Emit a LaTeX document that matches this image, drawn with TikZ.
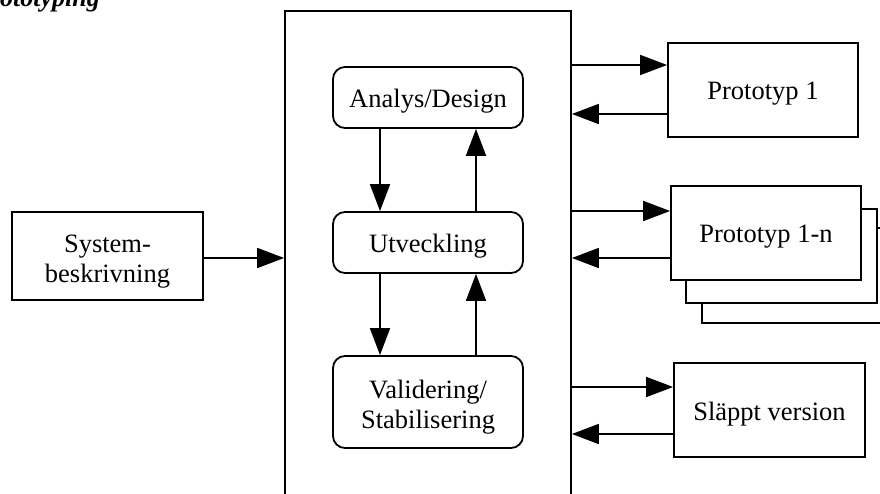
\documentclass[tikz,border=0pt]{standalone}
\usepackage{fontspec}
\setmainfont{Liberation Serif}
\usetikzlibrary{arrows.meta,calc}

\tikzset{
  lbl/.style={font=\fontsize{26.5}{30}\selectfont, align=center, inner sep=0pt},
  oneline/.style={text height=20pt, text depth=0pt},
  twoline/.style={text height=53pt, text depth=0pt},
  sqbox/.style={lbl, draw, line width=1.8pt, fill=white},
  rbox/.style={sqbox, rounded corners=12pt},
  arr/.style={line width=1.8pt, -{Triangle[length=27pt,width=20pt]}},
}

\begin{document}
\begin{tikzpicture}[x=1pt,y=1pt]
  \useasboundingbox (0,0) rectangle (880,493);
  \clip (0,0) rectangle (880,493);
  \fill[white] (0,0) rectangle (880,493);

  % heading, partly outside the page
  \node[anchor=base west, inner sep=0pt, font=\fontsize{26}{30}\selectfont\bfseries\itshape]
    (title) at (-26,486) {Prototyping};

  % outer process frame (runs past the bottom edge)
  \node[draw, line width=1.8pt, minimum width=286pt, minimum height=502pt, inner sep=0pt]
    (frame) at (428,231) {};

  % inner cycle
  \node[rbox, oneline, minimum width=190pt, minimum height=61pt] (ad) at (428,395.5) {Analys/Design};
  \node[rbox, oneline, minimum width=190pt, minimum height=61pt] (ut) at (428,250.5) {Utveckling};
  \node[rbox, twoline, minimum width=190pt, minimum height=92pt] (va) at (428,91) {Validering/\\Stabilisering};

  \draw[arr] (ad.south -| 380,0) -- (ut.north -| 380,0);
  \draw[arr] (ut.north -| 476,0) -- (ad.south -| 476,0);
  \draw[arr] (ut.south -| 380,0) -- (va.north -| 380,0);
  \draw[arr] (va.north -| 476,0) -- (ut.south -| 476,0);

  % input
  \node[sqbox, twoline, minimum width=191pt, minimum height=88pt] (sys) at (107.5,237) {System-\\beskrivning};
  \draw[arr] (sys.east |- 0,235) -- (frame.west |- 0,235);

  % prototypes
  \node[sqbox, oneline, minimum width=190pt, minimum height=94pt] (p1) at (763,403) {Prototyp 1};
  \node[sqbox, minimum width=191pt, minimum height=95pt] (pn3) at (797.5,217.5) {};
  \node[sqbox, minimum width=191pt, minimum height=94pt] (pn2) at (781.5,237) {};
  \node[sqbox, oneline, minimum width=190pt, minimum height=94pt] (pn) at (766,260) {Prototyp 1-n};
  \node[sqbox, oneline, minimum width=191pt, minimum height=94pt] (sv) at (769.5,83) {Släppt version};

  \draw[arr] (frame.east |- 0,428) -- (p1.west |- 0,428);
  \draw[arr] (p1.west |- 0,379) -- (frame.east |- 0,379);
  \draw[arr] (frame.east |- 0,282) -- (pn.west |- 0,282);
  \draw[arr] (pn.west |- 0,235) -- (frame.east |- 0,235);
  \draw[arr] (frame.east |- 0,106) -- (sv.west |- 0,106);
  \draw[arr] (sv.west |- 0,59) -- (frame.east |- 0,59);
\end{tikzpicture}
\end{document}
